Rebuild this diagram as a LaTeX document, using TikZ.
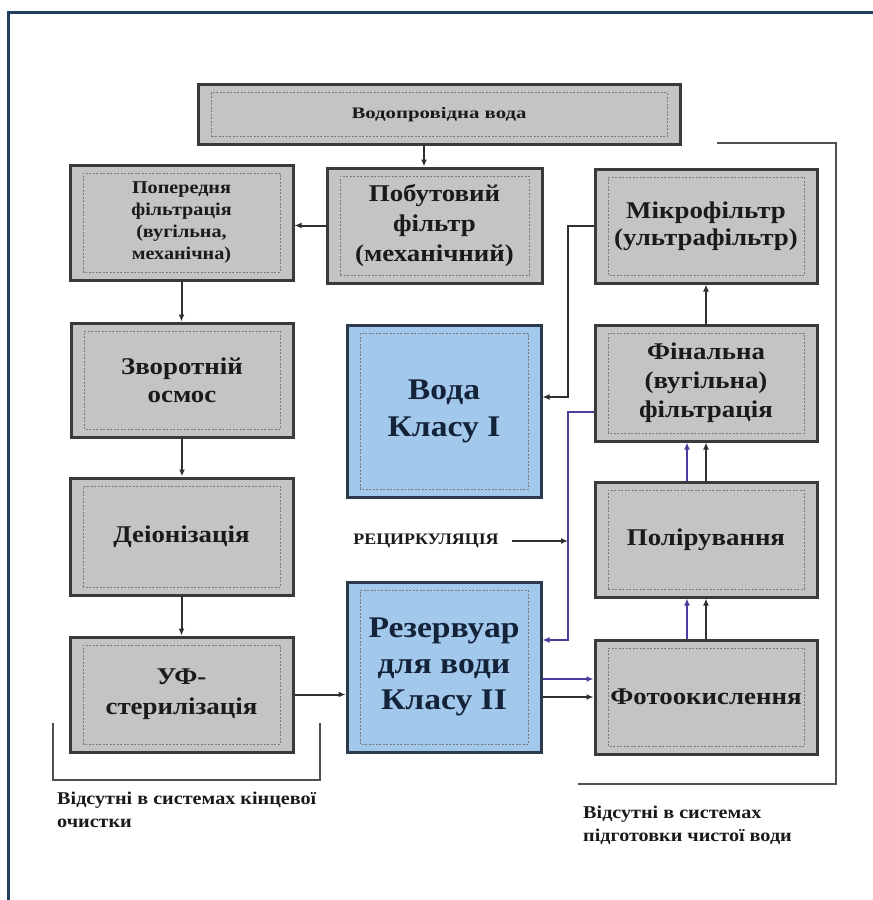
\documentclass[tikz,border=0pt]{standalone}
\usepackage{fontspec}
\setmainfont{Liberation Serif}[FakeStretch=1.12]
\newfontfamily\wideserif{Liberation Serif}[FakeStretch=1.3]
\usetikzlibrary{arrows.meta,calc}
\definecolor{boxfill}{HTML}{C4C4C4}
\definecolor{boxedge}{HTML}{3A3A3A}
\definecolor{bluefill}{HTML}{A2C8EC}
\definecolor{blueedge}{HTML}{2B3A4C}
\definecolor{dashcol}{HTML}{7A7A7A}
\definecolor{linecol}{HTML}{303030}
\definecolor{purp}{HTML}{4B3C9E}
\definecolor{framecol}{HTML}{1E3F5E}
\definecolor{txt}{HTML}{1A1A1A}
\definecolor{btxt}{HTML}{15233A}
\definecolor{brk}{HTML}{505050}
\tikzset{
  gbox/.style={draw=boxedge, line width=3pt, fill=boxfill, align=center,
    inner sep=0pt, text=txt, font=\bfseries,
    path picture={\draw[dashcol, line width=0.8pt, dash pattern=on 2pt off 1.5pt]
      ([shift={(13pt,8pt)}]path picture bounding box.south west) rectangle
      ([shift={(-13pt,-8pt)}]path picture bounding box.north east);}},
  bbox/.style={gbox, fill=bluefill, draw=blueedge, text=btxt},
  arr/.style={draw=linecol, line width=2pt, -{Latex[length=7pt,width=6pt]}},
  parr/.style={draw=purp, line width=2pt, -{Latex[length=7pt,width=6pt]}},
  bracket/.style={draw=brk, line width=2.8pt},
  lbl/.style={align=left, text=txt, font=\bfseries\fontsize{18}{23}\selectfont, inner sep=0pt},
}
\begin{document}
\begin{tikzpicture}[x=1pt,y=-1pt]
\useasboundingbox (0,0) rectangle (873,900);
\fill[white] (0,0) rectangle (873,900);
\draw[framecol, line width=3pt] (873,12) -- (8,12) -- (8,900);

% boxes
\node[gbox, minimum width=482pt, minimum height=60pt,
  font=\wideserif\bfseries\fontsize{16}{19}\selectfont] (top) at (439,114.5) {Водопровідна вода};
\node[gbox, minimum width=223pt, minimum height=115pt,
  font=\bfseries\fontsize{18}{22}\selectfont] (pop) at (181.5,222.5)
  {Попередня\\фільтрація\\(вугільна,\\механічна)};
\node[gbox, minimum width=215pt, minimum height=115pt,
  font=\bfseries\fontsize{24}{30}\selectfont] (pob) at (434.5,225.5)
  {Побутовий\\фільтр\\(механічний)};
\node[gbox, minimum width=222pt, minimum height=114pt,
  font=\bfseries\fontsize{24}{27}\selectfont] (mik) at (706,226)
  {Мікрофільтр\\(ультрафільтр)};
\node[gbox, minimum width=222pt, minimum height=114pt,
  font=\bfseries\fontsize{24}{28}\selectfont] (zv) at (182,380)
  {Зворотній\\осмос};
\node[bbox, minimum width=194pt, minimum height=172pt,
  font=\bfseries\fontsize{30}{37}\selectfont] (v1) at (444,411)
  {Вода\\Класу I};
\node[gbox, minimum width=222pt, minimum height=116pt,
  font=\bfseries\fontsize{24}{29}\selectfont] (fin) at (706,383)
  {Фінальна\\(вугільна)\\фільтрація};
\node[gbox, minimum width=223pt, minimum height=117pt,
  font=\bfseries\fontsize{24}{28}\selectfont] (dei) at (181.5,536.5)
  {Деіонізація};
\node[gbox, minimum width=222pt, minimum height=115pt,
  font=\bfseries\fontsize{24}{28}\selectfont] (pol) at (706,539.5)
  {Полірування};
\node[gbox, minimum width=223pt, minimum height=115pt,
  font=\bfseries\fontsize{24}{30}\selectfont] (uf) at (181.5,694.5)
  {УФ-\\стерилізація};
\node[bbox, minimum width=194pt, minimum height=170pt,
  font=\bfseries\fontsize{30}{36}\selectfont] (rez) at (444,667)
  {Резервуар\\для води\\Класу II};
\node[gbox, minimum width=222pt, minimum height=114pt,
  font=\bfseries\fontsize{24}{28}\selectfont] (foto) at (706,697)
  {Фотоокислення};

\node[text=txt, font=\bfseries\fontsize{16}{19}\selectfont, inner sep=0pt] (rec) at (426,541) {РЕЦИРКУЛЯЦІЯ};

% helper coordinates
\coordinate (busx) at (568,0);
\coordinate (ta) at ($(pob.north)+(-10.5,0)$);
\coordinate (v1in) at ($(v1.east)+(0,-14)$);
\coordinate (finout) at ($(fin.west)+(0,29)$);
\coordinate (rezin) at ($(rez.east)+(0,-27)$);
\coordinate (rp) at ($(rez.east)+(0,12)$);
\coordinate (px) at ($(fin.south)+(-19,0)$);

% connectors
\draw[arr] (top.south -| ta) -- (ta);
\draw[arr] (pob.west) -- (pob.west -| pop.east);
\draw[arr] (pop.south) -- (pop.south |- zv.north);
\draw[arr] (zv.south) -- (zv.south |- dei.north);
\draw[arr] (dei.south) -- (dei.south |- uf.north);
\draw[arr] (uf.east) -- (uf.east -| rez.west);
\draw[arr] (mik.west) -- (mik.west -| busx) -- (busx |- v1in) -- (v1in);
\draw[parr] (finout) -- (finout -| busx) -- (busx |- rezin) -- (rezin);
\draw[arr] ([xshift=13pt]rec.east) -- (rec.east -| busx);
\draw[parr] (rp) -- (rp -| foto.west);
\draw[arr] (rez.east |- foto.west) -- (foto.west);
\draw[arr] (foto.north) -- (pol.south);
\draw[arr] (pol.north) -- (fin.south);
\draw[arr] (fin.north) -- (mik.south);
\draw[parr] (foto.north -| px) -- (pol.south -| px);
\draw[parr] (pol.north -| px) -- (fin.south -| px);

% brackets
\draw[bracket] (717,143) -- (836,143) -- (836,784) -- (578,784);
\draw[bracket] (53,723) -- (53,780) -- (320,780) -- (320,723);

% labels
\node[lbl, anchor=north west] (lft) at (57,792) {Відсутні в системах кінцевої\\очистки};
\node[lbl, anchor=north west] (rgt) at (583,806) {Відсутні в системах\\підготовки чистої води};
\end{tikzpicture}
\end{document}
